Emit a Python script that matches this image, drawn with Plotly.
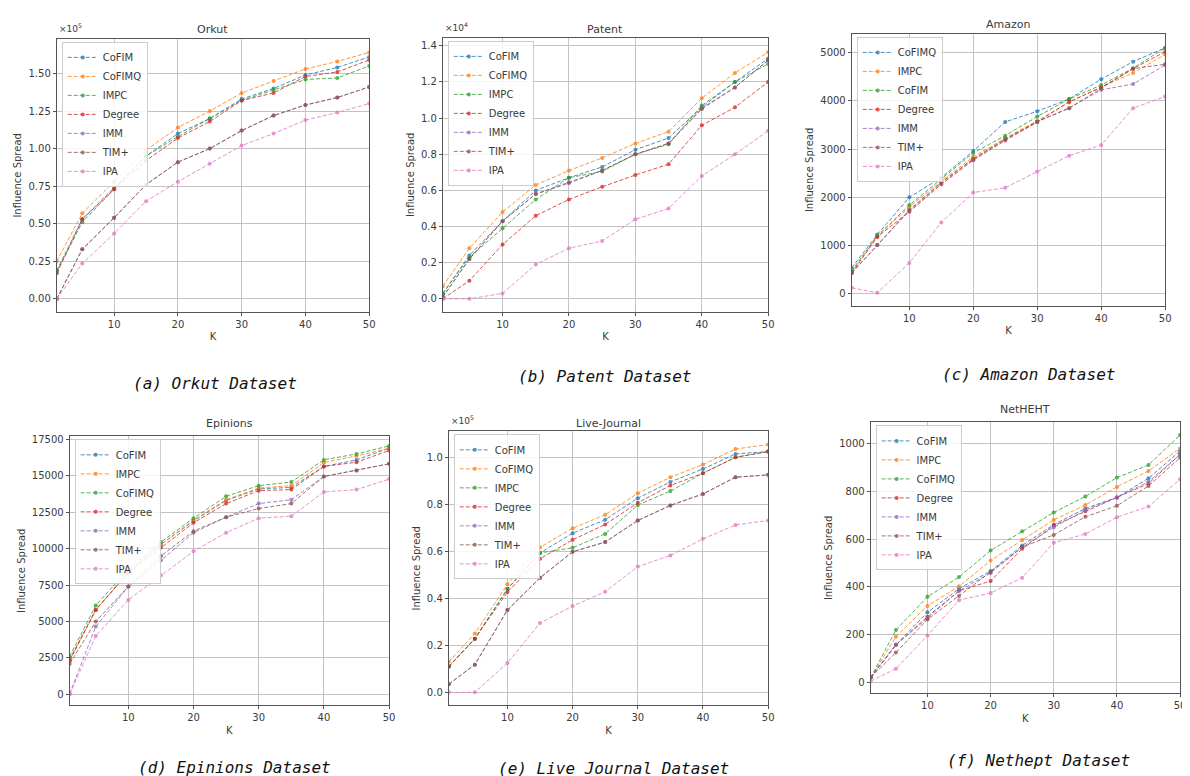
import plotly.graph_objects as go

W, H = 1190, 776
K = [1, 5, 10, 15, 20, 25, 30, 35, 40, 45, 50]
COLORS = ["#1f77b4", "#ff7f0e", "#2ca02c", "#d62728", "#9467bd", "#8c564b", "#e377c2"]

# ---- (a) Orkut (x1e5)
orkut_names = ["CoFIM", "CoFIMQ", "IMPC", "Degree", "IMM", "TIM+", "IPA"]
orkut_cofim = [0.19, 0.53, 0.74, 0.95, 1.10, 1.20, 1.33, 1.40, 1.49, 1.54, 1.61]
orkut_cofimq = [0.25, 0.57, 0.78, 0.99, 1.14, 1.25, 1.37, 1.45, 1.53, 1.58, 1.64]
orkut_impc = [0.18, 0.51, 0.73, 0.95, 1.08, 1.20, 1.32, 1.39, 1.46, 1.47, 1.55]
orkut_degree = [0.17, 0.53, 0.73, 0.92, 1.07, 1.18, 1.32, 1.37, 1.48, 1.51, 1.59]
orkut_imm = [0.0, 0.33, 0.54, 0.76, 0.91, 1.00, 1.12, 1.22, 1.29, 1.34, 1.41]
orkut_tim = [0.0, 0.33, 0.54, 0.76, 0.91, 1.00, 1.12, 1.22, 1.29, 1.34, 1.41]
orkut_ipa = [0.0, 0.235, 0.435, 0.65, 0.78, 0.90, 1.02, 1.10, 1.19, 1.24, 1.30]

# ---- (b) Patent (x1e4)
patent_names = ["CoFIM", "CoFIMQ", "IMPC", "Degree", "IMM", "TIM+", "IPA"]
patent_cofim = [0.03, 0.24, 0.43, 0.60, 0.67, 0.73, 0.825, 0.89, 1.06, 1.20, 1.33]
patent_cofimq = [0.07, 0.28, 0.48, 0.63, 0.71, 0.78, 0.86, 0.925, 1.11, 1.25, 1.365]
patent_impc = [0.03, 0.23, 0.39, 0.55, 0.67, 0.705, 0.80, 0.855, 1.07, 1.20, 1.30]
patent_degree = [0.0, 0.10, 0.30, 0.46, 0.55, 0.62, 0.685, 0.745, 0.96, 1.06, 1.20]
patent_imm = [0.01, 0.22, 0.43, 0.58, 0.64, 0.71, 0.80, 0.86, 1.055, 1.17, 1.32]
patent_tim = [0.01, 0.22, 0.43, 0.58, 0.645, 0.71, 0.80, 0.86, 1.05, 1.17, 1.32]
patent_ipa = [0.0, 0.0, 0.03, 0.19, 0.28, 0.32, 0.44, 0.50, 0.68, 0.80, 0.93]

# ---- (c) Amazon
amazon_names = ["CoFIMQ", "IMPC", "CoFIM", "Degree", "IMM", "TIM+", "IPA"]
amazon_cofimq = [540, 1230, 2000, 2410, 2960, 3565, 3785, 4040, 4450, 4815, 5100]
amazon_impc = [450, 1190, 1800, 2340, 2840, 3230, 3590, 3970, 4290, 4580, 4965]
amazon_cofim = [480, 1200, 1840, 2390, 2920, 3280, 3675, 4040, 4330, 4680, 5100]
amazon_degree = [430, 1180, 1700, 2270, 2770, 3180, 3560, 3985, 4280, 4670, 5020]
amazon_imm = [430, 1010, 1720, 2300, 2790, 3200, 3570, 3850, 4230, 4350, 4745]
amazon_tim = [430, 1010, 1740, 2310, 2800, 3210, 3570, 3850, 4260, 4670, 4760]
amazon_ipa = [125, 20, 640, 1480, 2100, 2200, 2535, 2865, 3085, 3850, 4090]

# ---- (d) Epinions
epinions_names = ["CoFIM", "IMPC", "CoFIMQ", "Degree", "IMM", "TIM+", "IPA"]
epinions_cofim = [2400, 5800, 8400, 10290, 11900, 13300, 14100, 14200, 15640, 16090, 16890]
epinions_impc = [2400, 5790, 8360, 10290, 11950, 13360, 14160, 14320, 15910, 16360, 16890]
epinions_cofimq = [2600, 6100, 8590, 10450, 12090, 13590, 14320, 14570, 16090, 16500, 17050]
epinions_degree = [2300, 5790, 8360, 10070, 11770, 13090, 13980, 14050, 15640, 15930, 16730]
epinions_imm = [50, 4650, 7400, 9200, 11090, 12160, 13090, 13360, 14950, 15360, 15820]
epinions_tim = [2100, 5000, 7400, 9500, 11200, 12160, 12750, 13090, 14950, 15360, 15820]
epinions_ipa = [0, 4000, 6480, 8180, 9820, 11090, 12090, 12230, 13890, 14050, 14770]

# ---- (e) Live-Journal (x1e5)
lj_names = ["CoFIM", "CoFIMQ", "IMPC", "Degree", "IMM", "TIM+", "IPA"]
lj_cofim = [0.11, 0.228, 0.44, 0.593, 0.677, 0.734, 0.826, 0.895, 0.95, 1.014, 1.024]
lj_cofimq = [0.13, 0.25, 0.46, 0.617, 0.698, 0.755, 0.847, 0.915, 0.969, 1.035, 1.054]
lj_impc = [0.11, 0.228, 0.44, 0.593, 0.615, 0.674, 0.797, 0.856, 0.932, 1.0, 1.024]
lj_degree = [0.11, 0.228, 0.427, 0.568, 0.649, 0.714, 0.806, 0.88, 0.932, 1.0, 1.024]
lj_imm = [0.035, 0.118, 0.35, 0.487, 0.598, 0.639, 0.731, 0.795, 0.844, 0.915, 0.925]
lj_tim = [0.035, 0.118, 0.35, 0.487, 0.598, 0.639, 0.731, 0.795, 0.844, 0.915, 0.925]
lj_ipa = [0.0, 0.0, 0.125, 0.295, 0.367, 0.428, 0.535, 0.582, 0.653, 0.712, 0.731]

# ---- (f) NetHEHT
net_names = ["CoFIM", "IMPC", "CoFIMQ", "Degree", "IMM", "TIM+", "IPA"]
net_cofim = [20, 157, 293, 392, 466, 573, 660, 728, 774, 854, 968]
net_impc = [20, 191, 320, 402, 510, 596, 680, 742, 818, 885, 979]
net_cofimq = [20, 219, 358, 441, 552, 632, 711, 778, 857, 910, 1035]
net_degree = [20, 157, 275, 383, 424, 559, 656, 716, 774, 832, 954]
net_imm = [20, 157, 268, 383, 458, 566, 649, 721, 774, 840, 954]
net_tim = [20, 125, 263, 361, 462, 566, 617, 693, 739, 822, 940]
net_ipa = [5, 57, 196, 344, 374, 438, 584, 621, 691, 736, 850]

panels = [
    dict(title="Orkut", names=orkut_names,
         series=[orkut_cofim, orkut_cofimq, orkut_impc, orkut_degree, orkut_imm, orkut_tim, orkut_ipa],
         box=(49, 363, 28, 302), yr=[-0.086, 1.73], dtick=0.25, fmt=".2f", mult="×10<sup>5</sup>",
         title_y=19, caption="(a) Orkut Dataset", cap=(208, 374)),
    dict(title="Patent", names=patent_names,
         series=[patent_cofim, patent_cofimq, patent_impc, patent_degree, patent_imm, patent_tim, patent_ipa],
         box=(437, 764, 27, 302), yr=[-0.072, 1.444], dtick=0.2, fmt=".1f", mult="×10<sup>4</sup>",
         title_y=19, caption="(b) Patent Dataset", cap=(600, 367)),
    dict(title="Amazon", names=amazon_names,
         series=[amazon_cofimq, amazon_impc, amazon_cofim, amazon_degree, amazon_imm, amazon_tim, amazon_ipa],
         box=(848, 1163, 23, 296), yr=[-250, 5390], dtick=1000, fmt="d", mult=None,
         title_y=14, caption="(c) Amazon Dataset", cap=(1026, 365)),
    dict(title="Epinions", names=epinions_names,
         series=[epinions_cofim, epinions_impc, epinions_cofimq, epinions_degree, epinions_imm, epinions_tim, epinions_ipa],
         box=(62, 383, 427, 697), yr=[-752, 17705], dtick=2500, fmt="d", mult=None,
         title_y=414, caption="(d) Epinions Dataset", cap=(228, 759)),
    dict(title="Live-Journal", names=lj_names,
         series=[lj_cofim, lj_cofimq, lj_impc, lj_degree, lj_imm, lj_tim, lj_ipa],
         box=(443, 764, 422, 697), yr=[-0.055, 1.11], dtick=0.2, fmt=".1f", mult="×10<sup>5</sup>",
         title_y=414, caption="(e) Live Journal Dataset", cap=(609, 760)),
    dict(title="NetHEHT", names=net_names,
         series=[net_cofim, net_impc, net_cofimq, net_degree, net_imm, net_tim, net_ipa],
         box=(867, 1178, 413, 685), yr=[-46, 1088], dtick=200, fmt="d", mult=None,
         title_y=400, caption="(f) Nethept Dataset", cap=(1036, 752)),
]

fig = go.Figure()
annotations = []
layout = {}
FONT = "DejaVu Sans, Arial, sans-serif"
TXT = "#3a3a3a"

for i, p in enumerate(panels, start=1):
    l, r, t, b = p["box"]
    xd = [l / W, r / W]
    yd = [1 - b / H, 1 - t / H]
    xa = "xaxis" if i == 1 else f"xaxis{i}"
    ya = "yaxis" if i == 1 else f"yaxis{i}"
    xref = "x" if i == 1 else f"x{i}"
    yref = "y" if i == 1 else f"y{i}"
    leg = "legend" if i == 1 else f"legend{i}"
    common = dict(showline=True, mirror=True, linecolor="#555", linewidth=1,
                  showgrid=True, gridcolor="#c4c4c4", gridwidth=1, zeroline=False,
                  ticks="outside", ticklen=3, tickcolor="#555",
                  tickfont=dict(family=FONT, size=10, color=TXT))
    layout[xa] = dict(domain=xd, anchor=yref, range=[1, 50], tickvals=[10, 20, 30, 40, 50],
                      title=dict(text="K", font=dict(family=FONT, size=10, color=TXT), standoff=4),
                      **common)
    layout[ya] = dict(domain=yd, anchor=xref, range=p["yr"], tick0=0, dtick=p["dtick"],
                      tickformat=p["fmt"],
                      title=dict(text="Influence Spread", font=dict(family=FONT, size=10, color=TXT), standoff=4),
                      **common)
    for j, (name, vals) in enumerate(zip(p["names"], p["series"])):
        fig.add_trace(go.Scatter(
            x=K, y=vals, name=name, mode="lines+markers", xaxis=xref, yaxis=yref,
            legend=leg,
            line=dict(color=COLORS[j], width=1, dash="4px,2px"),
            marker=dict(color=COLORS[j], size=4),
            opacity=0.8,
        ))
    layout[leg] = dict(x=(l + 5) / W, y=1 - (t + 3) / H, xanchor="left", yanchor="top",
                       bgcolor="rgba(255,255,255,0.85)", bordercolor="#cccccc", borderwidth=1,
                       font=dict(family=FONT, size=10, color=TXT), itemwidth=30,
                       tracegroupgap=0, traceorder="normal")
    annotations.append(dict(text=p["title"], x=(l + r) / 2 / W, y=1 - p["title_y"] / H,
                            xref="paper", yref="paper", showarrow=False,
                            xanchor="center", yanchor="middle",
                            font=dict(family=FONT, size=11, color=TXT)))
    if p["mult"]:
        annotations.append(dict(text=p["mult"], x=l / W, y=1 - (t - 3) / H,
                                xref="paper", yref="paper", showarrow=False,
                                xanchor="left", yanchor="bottom",
                                font=dict(family=FONT, size=9, color=TXT)))
    cx, cy = p["cap"]
    annotations.append(dict(text=p["caption"], x=cx / W, y=1 - cy / H,
                            xref="paper", yref="paper", showarrow=False,
                            xanchor="center", yanchor="middle",
                            font=dict(family="DejaVu Sans Mono, monospace", size=16,
                                      color="#111", style="italic")))

fig.update_layout(width=W, height=H, margin=dict(l=0, r=0, t=0, b=0),
                  paper_bgcolor="white", plot_bgcolor="white",
                  annotations=annotations, **layout)
fig.write_html("out.html")
